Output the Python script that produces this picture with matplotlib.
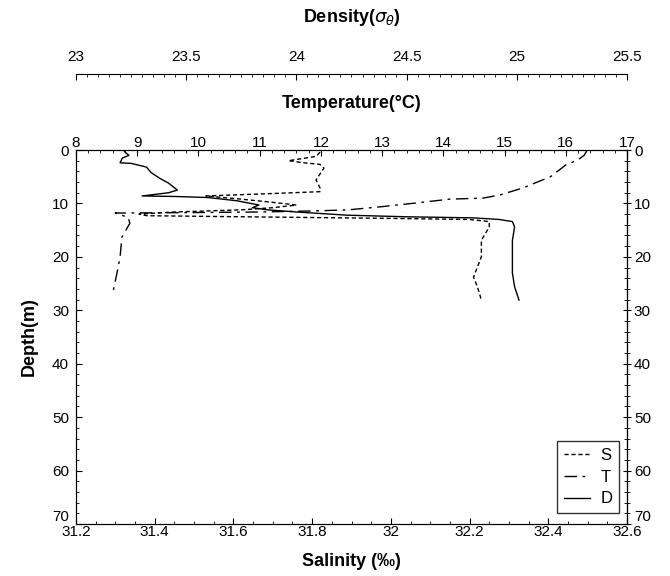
import numpy as np
import matplotlib.pyplot as plt
from matplotlib.ticker import MultipleLocator

# salinity profile (S)
s_depth = [0.4, 1.2, 2.0, 2.4, 2.7, 3.4, 4.5, 5.6, 7.1, 7.8, 8.2, 8.6, 9.2, 9.8, 10.3,
           10.8, 11.2, 11.6, 12.0, 12.3, 12.6, 12.8, 13.0, 13.4, 14.4, 16.9, 20.0,
           23.8, 25.6, 28.1]
s_val = [31.82, 31.81, 31.74, 31.78, 31.82, 31.83, 31.82, 31.81, 31.82, 31.82, 31.68,
         31.53, 31.62, 31.70, 31.76, 31.70, 31.62, 31.45, 31.36, 31.38, 31.75, 32.00,
         32.20, 32.25, 32.25, 32.23, 32.23, 32.21, 32.22, 32.23]

# temperature profile (T)
t_depth = [0.0, 1.0, 1.9, 2.8, 5.0, 7.1, 8.4, 9.0, 9.2, 9.9, 10.6, 11.2, 11.4, 11.6,
           11.7, 11.8, 12.6, 13.7, 16.3, 20.0, 23.0, 26.8]
t_val = [16.35, 16.3, 16.19, 16.0, 15.75, 15.3, 14.93, 14.65, 14.1, 13.57, 13.0, 12.45,
         11.9, 11.0, 10.0, 8.64, 8.85, 8.88, 8.75, 8.72, 8.67, 8.6]

# density profile (D)
d_depth = [0.3, 1.0, 1.5, 2.4, 2.5, 3.2, 4.2, 5.3, 6.2, 7.5, 8.0, 8.6, 8.7, 8.9, 9.5,
           10.3, 10.8, 11.2, 11.6, 12.2, 12.5, 12.7, 13.0, 13.4, 14.4, 16.9, 21.2,
           23.0, 25.6, 28.1]
d_val = [23.22, 23.24, 23.21, 23.20, 23.25, 23.32, 23.34, 23.38, 23.42, 23.46, 23.42,
         23.30, 23.45, 23.60, 23.73, 23.83, 23.80, 23.87, 24.00, 24.23, 24.50, 24.80,
         24.92, 24.98, 24.99, 24.98, 24.98, 24.98, 24.99, 25.01]

depth_ticks = [0, 10, 20, 30, 40, 50, 60, 70]
depth_labels = ['0', '10', '20', '30', '40', '50', '60', '70']
sal_ticks = [31.2, 31.4, 31.6, 31.8, 32.0, 32.2, 32.4, 32.6]
sal_labels = ['31.2', '31.4', '31.6', '31.8', '32', '32.2', '32.4', '32.6']
dens_ticks = [23, 23.5, 24, 24.5, 25, 25.5]
dens_labels = ['23', '23.5', '24', '24.5', '25', '25.5']

plt.rcParams['font.family'] = ['Liberation Sans', 'DejaVu Sans']
title_font = dict(fontweight='bold', fontsize=13)
tsize = 11

fig = plt.figure(figsize=(6.7, 5.76), dpi=100)
ax = fig.add_axes([76 / 670, 52 / 576, 551 / 670, 374 / 576])

ls_s = (0, (3, 2))
ls_t = (0, (9, 4, 2, 4))

# salinity on the bottom axis
ax.plot(s_val, s_depth, color='black', lw=1, ls=ls_s, label='S')
ax.set_xlim(31.2, 32.6)
ax.set_ylim(70, 0)
ax.set_xticks(sal_ticks, sal_labels)
ax.xaxis.set_minor_locator(MultipleLocator(0.05))
ax.set_yticks(depth_ticks, depth_labels)
ax.yaxis.set_minor_locator(MultipleLocator(2))
ax.tick_params(which='both', direction='in', labelsize=tsize, pad=1)
ax.tick_params(axis='y', pad=5)
ax.tick_params(which='major', length=4)
ax.tick_params(which='minor', length=2)
ax.set_xlabel('Salinity (‰)', labelpad=10, **title_font)
ax.set_ylabel('Depth(m)', labelpad=10, **title_font)

sec = ax.secondary_yaxis('right')
sec.set_yticks(depth_ticks, depth_labels)
sec.yaxis.set_minor_locator(MultipleLocator(2))
sec.tick_params(which='both', direction='inout', labelsize=tsize, pad=2)
sec.tick_params(which='major', length=6)
sec.tick_params(which='minor', length=4)

# temperature on the top axis
ax_t = ax.twiny()
ax_t.plot(t_val, t_depth, color='black', lw=1, ls=ls_t, label='T')
ax_t.set_xlim(8, 17)
ax_t.xaxis.set_major_locator(MultipleLocator(1))
ax_t.xaxis.set_minor_locator(MultipleLocator(0.2))
ax_t.tick_params(which='both', direction='in', labelsize=tsize, pad=0)
ax_t.tick_params(which='major', length=4)
ax_t.tick_params(which='minor', length=2)
ax_t.set_xlabel('Temperature(°C)', labelpad=20, **title_font)

# density on a detached top axis
ax_d = ax.twiny()
ax_d.plot(d_val, d_depth, color='black', lw=1, ls='-', label='D')
ax_d.set_xlim(23, 25.5)
ax_d.spines['top'].set_position(('axes', 1 + 76 / 374))
for side in ['bottom', 'left', 'right']:
    ax_d.spines[side].set_visible(False)
ax_d.set_xticks(dens_ticks, dens_labels)
ax_d.xaxis.set_minor_locator(MultipleLocator(0.05))
ax_d.tick_params(which='both', direction='in', labelsize=tsize, pad=7)
ax_d.tick_params(which='major', length=4)
ax_d.tick_params(which='minor', length=2)
ax_d.set_xlabel(r'Density($\sigma_\theta$)', labelpad=20, **title_font)

handles = [ax.lines[0], ax_t.lines[0], ax_d.lines[0]]
leg = ax_d.legend(handles, ['S', 'T', 'D'], loc='lower right',
                  bbox_to_anchor=(543 / 551, 11 / 374), borderaxespad=0,
                  frameon=True, fancybox=False, edgecolor='black', fontsize=12,
                  handlelength=1.6, handletextpad=0.6, borderpad=0.4, labelspacing=0.4)
leg.get_frame().set_linewidth(1)

# the 70 labels sit just above the bottom corner
fig.canvas.draw()
ax.get_yticklabels()[-1].set_va('bottom')
sec.get_yticklabels()[-1].set_va('bottom')

fig.savefig('out.png', dpi=100)
